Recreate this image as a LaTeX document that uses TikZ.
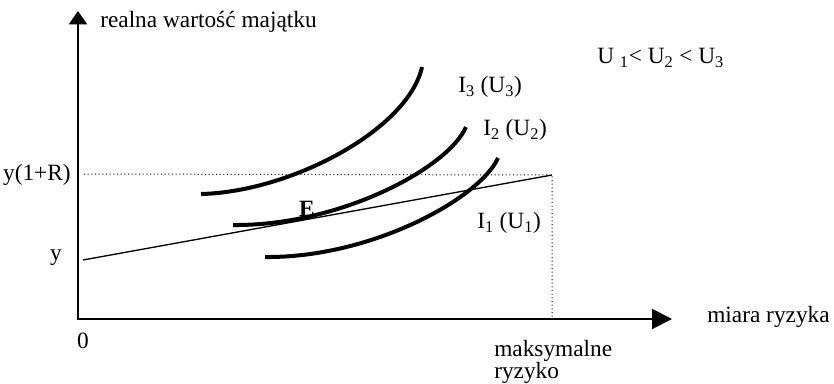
\documentclass[tikz,border=0pt]{standalone}
\usepackage{fontspec}
\setmainfont{Liberation Serif}
\usetikzlibrary{arrows.meta}
\tikzset{
  axis/.style={
    line width=1.5pt
  },
  budget/.style={line width=1pt},
  guide/.style={line width=0.75pt, dotted},
  indiff/.style={
    line width=3pt,
    line cap=butt
  },
  lbl/.style={
    inner sep=0pt,
    font=\fontsize{17.5}{16.5}\selectfont
  }
}
\begin{document}
\begin{tikzpicture}[x=0.75pt, y=-0.75pt]
  \useasboundingbox (0,0) rectangle (834,383);
  \coordinate (O) at (78,320);
  \coordinate (ytip) at (78,11);
  \coordinate (xtip) at (672,319);
  \coordinate (ymax) at (84,174);
  \coordinate (b0) at (83,260);
  \coordinate (b1) at (552,175);
  \coordinate (xmax) at (552,319);
  % axes
  \draw[axis, -{Triangle[length=10pt, width=13.5pt]}] (O) -- (ytip);
  \draw[axis, -{Triangle[length=15pt, width=15pt]}] (O |- xtip) -- (xtip);
  % guides and budget line
  \draw[guide] (ymax) -- (b1) -- (xmax);
  \draw[budget] (b0) -- (b1);
  % indifference curves
  \draw[indiff] (201,194) .. controls (290,192) and (408,130) .. (422,67);
  \draw[indiff] (233,225) .. controls (340,226) and (448,168) .. (466,127);
  \draw[indiff] (265,257) .. controls (372,258) and (480,198) .. (498,158);
  % labels
  \node[lbl, anchor=west] (ylab) at (100,22) {realna wartość majątku};
  \node[lbl, anchor=west] (xlab) at (707,317) {miara ryzyka};
  \node[lbl, anchor=east] (yR) at (71,175) {y(1+R)};
  \node[lbl, anchor=east] (y0) at (62,258) {y};
  \node[lbl] (zero) at (83,341) {0};
  \node[lbl, anchor=north west, align=left] (maxr) at (494,340) {maksymalne\\ryzyko};
  \node[lbl, anchor=west] (order) at (597,58) {U \textsubscript{1}< U\textsubscript{2} < U\textsubscript{3}};
  \node[lbl, anchor=west] (i3) at (458,87) {I\textsubscript{3} (U\textsubscript{3})};
  \node[lbl, anchor=west] (i2) at (483,130) {I\textsubscript{2} (U\textsubscript{2})};
  \node[lbl, anchor=west] (i1) at (477,223) {I\textsubscript{1} (U\textsubscript{1})};
  \node[lbl, font=\fontsize{17.5}{16.5}\selectfont\bfseries] (E) at (307,209) {E};
\end{tikzpicture}
\end{document}
